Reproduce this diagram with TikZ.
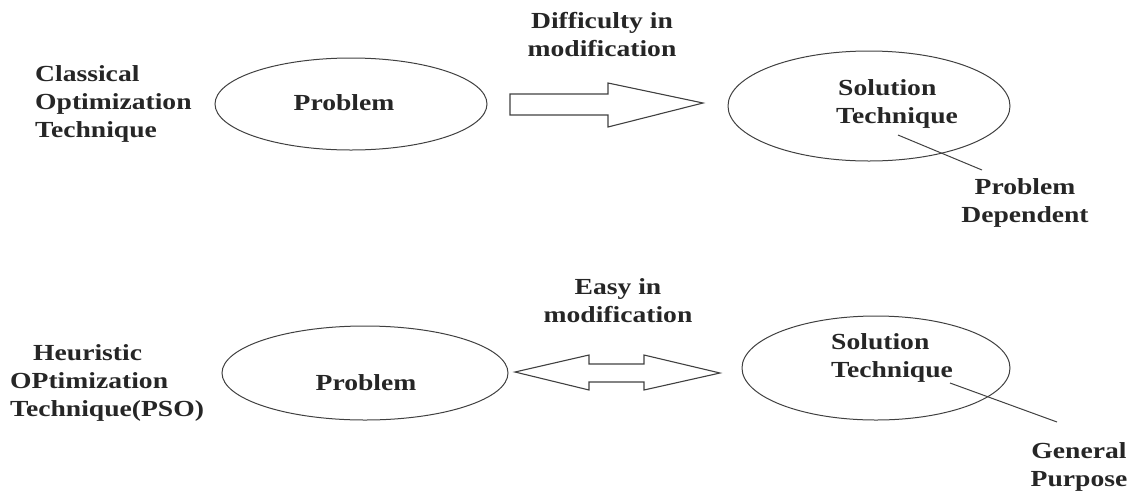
\documentclass[tikz,border=0pt]{standalone}
\usepackage{fontspec}
\setmainfont{Liberation Serif}[FakeStretch=1.2]
\begin{document}
\begin{tikzpicture}[x=1pt,y=-1pt,
  lbl/.style={font=\bfseries\fontsize{23}{28}\selectfont, inner sep=0pt, text=black!85},
  oval/.style={draw=black!75, line width=1pt},
  shp/.style={draw=black!75, line width=1.1pt, line join=miter},
  lead/.style={draw=black!75, line width=1pt}]
\useasboundingbox (0,0) rectangle (1135,499);
% ellipses
\draw[oval] (351,104) ellipse [x radius=136, y radius=46];
\draw[oval] (869,106) ellipse [x radius=141, y radius=55];
\draw[oval] (365,373) ellipse [x radius=143, y radius=47];
\draw[oval] (876,368) ellipse [x radius=134, y radius=52];
% top arrow
\draw[shp] (510,94) -- (608,94) -- (608,83) -- (703,103) -- (608,127) -- (608,115) -- (510,115) -- cycle;
% double arrow
\draw[shp] (515,372) -- (589,355) -- (589,364) -- (644,364) -- (644,355) -- (720,373) -- (644,390) -- (644,382) -- (589,382) -- (589,390) -- cycle;
% texts
\node[lbl, anchor=west, align=left] (cot) at (35,104) {Classical\\Optimization\\Technique};
\node[lbl] (p1) at (344,103) {Problem};
\node[lbl, align=center] (dm) at (602,35) {Difficulty in\\modification};
\node[lbl, anchor=west, align=left] (st1) at (836,104) {\hspace*{2pt}Solution\\Technique};
\node[lbl, align=center] (pd) at (1025,203) {Problem\\Dependent};
\node[lbl, align=center] (em) at (618,301) {Easy in\\modification};
\node[lbl, anchor=west, align=left] (hot) at (10,383) {\hspace*{23pt}Heuristic\\OPtimization\\Technique(PSO)};
\node[lbl] (p2) at (366,383) {Problem};
\node[lbl, anchor=west, align=left] (st2) at (831,358) {Solution\\Technique};
\node[lbl, align=center] (gp) at (1079,467) {General\\Purpose};
% leader lines
\coordinate (l1a) at (898,135);
\coordinate (l1b) at (982,170);
\coordinate (l2a) at (950,383);
\coordinate (l2b) at (1057,422);
\draw[lead] (l1a) -- (l1b);
\draw[lead] (l2a) -- (l2b);
\end{tikzpicture}
\end{document}
